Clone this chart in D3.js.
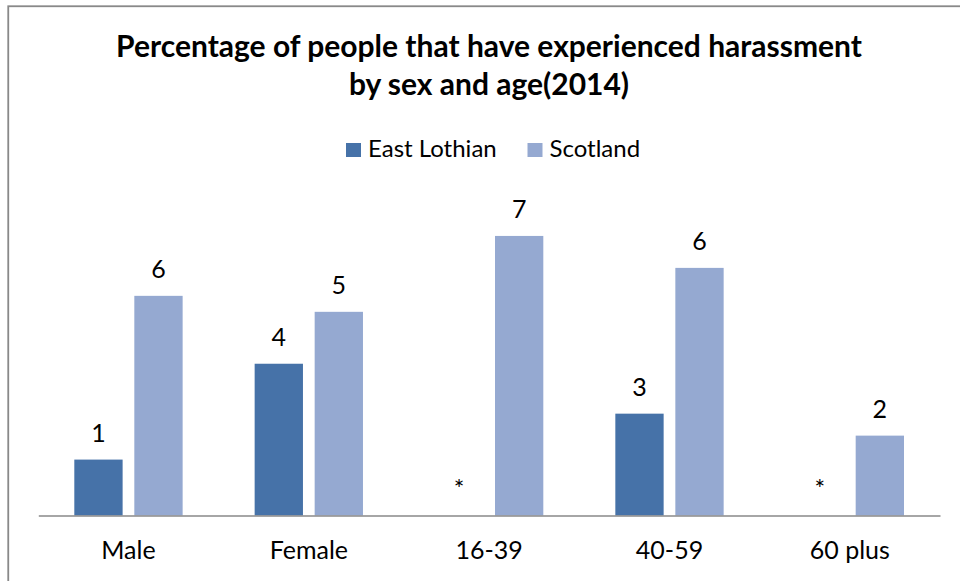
<!DOCTYPE html>
<html>
<head>
<meta charset="utf-8">
<script src="https://cdn.jsdelivr.net/npm/d3@7"></script>
<style>
  html, body { margin: 0; padding: 0; background: #fff; }
  svg { display: block; font-family: Lato, "Open Sans", sans-serif; }
</style>
</head>
<body>
<svg id="chart" width="960" height="581"></svg>
<script>
// Harassment experience by sex and age group, 2014 (per cent)
const categories = ["Male", "Female", "16-39", "40-59", "60 plus"];
const seriesNames = ["East Lothian", "Scotland"];
// null = suppressed estimate, shown as "*"
const eastLothian = [1.4, 3.8, null, 2.55, null];
const scotland = [5.5, 5.1, 7.0, 6.2, 2.0];
const titleLines = ["Percentage of people that have experienced harassment", "by sex and age(2014)"];

const colors = { "East Lothian": "#4672a8", "Scotland": "#95a9d1" };

const svg = d3.select("#chart");
const W = 960, H = 581;

// frame of the chart area
svg.append("rect")
  .attr("x", 8.25).attr("y", 6.25)
  .attr("width", W).attr("height", H)
  .attr("fill", "#fff")
  .attr("stroke", "#898989")
  .attr("stroke-width", 1.8);

const plot = { left: 38.3, right: 940, top: 196, bottom: 515.5 };

const x0 = d3.scaleBand()
  .domain(categories)
  .range([plot.left, plot.right])
  .padding(0);

const x1 = d3.scaleBand()
  .domain(seriesNames)
  .range([0, x0.bandwidth()])
  .paddingInner(0.195)
  .paddingOuter(0.6);

const y = d3.scaleLinear()
  .domain([0, 8])
  .range([plot.bottom, plot.top]);

const rows = categories.map((c, i) => ({
  category: c,
  values: [
    { series: "East Lothian", value: eastLothian[i] },
    { series: "Scotland", value: scotland[i] }
  ]
}));

// title
svg.append("text")
  .attr("x", 489).attr("y", 57)
  .attr("text-anchor", "middle")
  .attr("font-weight", 700)
  .attr("font-size", 30)
  .attr("fill", "#000")
  .selectAll("tspan")
  .data(titleLines)
  .join("tspan")
  .attr("x", 489)
  .attr("dy", (d, i) => i === 0 ? 0 : 37.5)
  .text(d => d);

// legend
const legendItems = [
  { name: "East Lothian", x: 346 },
  { name: "Scotland", x: 527.5 }
];
const legend = svg.append("g");
legendItems.forEach(it => {
  legend.append("rect")
    .attr("x", it.x).attr("y", 143)
    .attr("width", 15).attr("height", 14)
    .attr("fill", colors[it.name]);
  legend.append("text")
    .attr("x", it.x + 22).attr("y", 156.7)
    .attr("font-size", 24)
    .attr("fill", "#000")
    .text(it.name);
});

// bars
const groups = svg.append("g")
  .selectAll("g")
  .data(rows)
  .join("g")
  .attr("transform", d => `translate(${x0(d.category)},0)`);

groups.selectAll("rect")
  .data(d => d.values.filter(v => v.value !== null))
  .join("rect")
  .attr("x", d => x1(d.series))
  .attr("width", x1.bandwidth())
  .attr("y", d => y(d.value))
  .attr("height", d => y(0) - y(d.value))
  .attr("fill", d => colors[d.series]);

// value labels (rounded to whole per cent)
groups.selectAll("text")
  .data(d => d.values)
  .join("text")
  .attr("x", d => x1(d.series) + x1.bandwidth() / 2)
  .attr("y", d => y(d.value === null ? 0 : d.value) - 18)
  .attr("text-anchor", "middle")
  .attr("font-size", 25)
  .attr("fill", "#000")
  .text(d => d.value === null ? "*" : Math.round(d.value));

// category axis
const axis = svg.append("g")
  .attr("transform", `translate(0,${plot.bottom})`)
  .call(d3.axisBottom(x0).tickSize(0).tickSizeOuter(0));

axis.select(".domain")
  .attr("stroke", "#898989")
  .attr("stroke-width", 1.6);

axis.selectAll(".tick text")
  .attr("y", 43)
  .attr("dy", 0)
  .attr("font-family", "Lato, 'Open Sans', sans-serif")
  .attr("font-size", 25)
  .attr("fill", "#000");
</script>
</body>
</html>
